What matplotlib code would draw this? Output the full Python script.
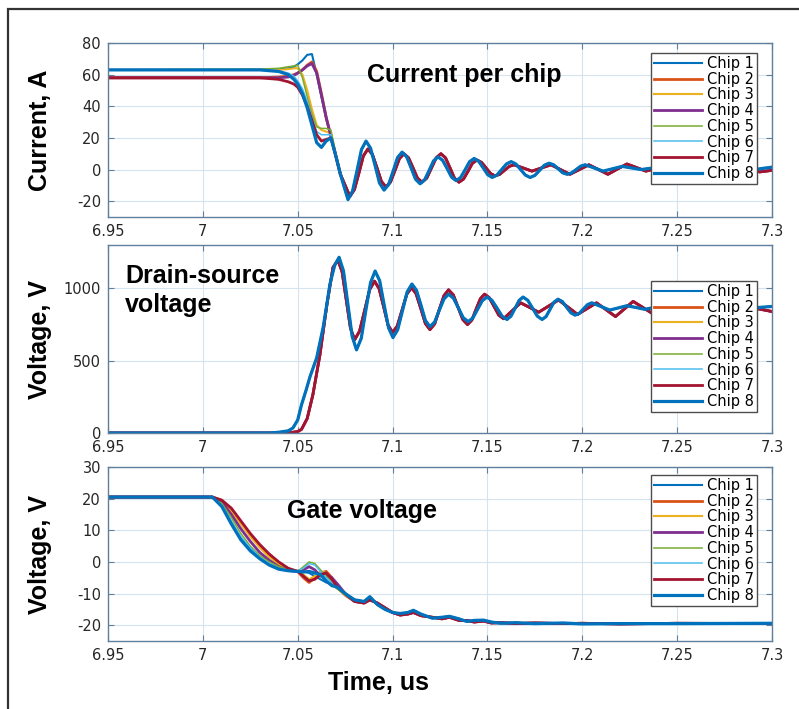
import matplotlib
matplotlib.use("Agg")
import matplotlib.pyplot as plt
from matplotlib.patches import Rectangle

# ---------------- data ----------------
chips = ["Chip 1", "Chip 2", "Chip 3", "Chip 4", "Chip 5", "Chip 6", "Chip 7", "Chip 8"]
colors = ["#0072BD", "#D95319", "#EDB120", "#7E2F8E", "#77AC30", "#4DBEEE", "#A2142F", "#0072BD"]
widths = [1.5, 2.0, 1.5, 2.0, 1.1, 1.1, 2.0, 2.3]

xticks = [6.95, 7.0, 7.05, 7.1, 7.15, 7.2, 7.25, 7.3]
xtick_labels = ["6.95", "7", "7.05", "7.1", "7.15", "7.2", "7.25", "7.3"]

# ---- current per chip: turn-off part (common time grid) ----
cur_t_head = [6.95, 7.03, 7.04, 7.045, 7.048, 7.05, 7.0525, 7.055, 7.0575, 7.06, 7.0625, 7.065, 7.0675, 7.07, 7.0725]
cur_chip1 = [63, 63, 63.5, 64, 65, 66.5, 69, 72.5, 73, 60, 46, 32, 21, 9, -3]
cur_chip2 = [58, 58, 58.5, 59, 60, 61, 63, 66, 68, 62, 48, 33, 21, 9, -3]
cur_chip3 = [63, 63, 63, 63.5, 64, 64, 60, 50, 38, 28, 25, 24, 23, 10, -2]
cur_chip4 = [58, 58, 58, 58.5, 59.5, 61, 63, 65.5, 67, 61, 47, 33, 21, 9, -3]
cur_chip5 = [63, 63.5, 64, 65, 65.5, 66, 58, 46, 35, 27, 26, 26, 25, 11, -2]
cur_chip6 = [63, 63, 62.5, 61, 59, 56, 51, 43, 33, 24, 22, 22, 22, 10, -3]
cur_chip7 = [58, 58, 57, 55.5, 54, 52, 47, 40, 31, 22, 18, 19, 20, 9, -3]
cur_chip8 = [63, 63, 62, 60, 57, 54, 48, 39, 28, 17, 14, 18, 20, 9, -3]

# ringing, group A (blue traces)
cur_ring_a_t = [7.0765, 7.0789, 7.0813, 7.0836, 7.086, 7.0884, 7.0908, 7.0931, 7.0955, 7.0979, 7.1003, 7.1026,
                7.105, 7.1074, 7.1098, 7.1121, 7.1145, 7.1169, 7.1193, 7.1216, 7.124, 7.1264, 7.1288, 7.1311,
                7.1335, 7.1359, 7.1383, 7.1406, 7.143, 7.1454, 7.1478, 7.1501, 7.1525, 7.155, 7.1575, 7.16,
                7.1625, 7.165, 7.1675, 7.17, 7.1725, 7.175, 7.1775, 7.18, 7.1825, 7.1849, 7.1873, 7.1896,
                7.192, 7.1944, 7.1968, 7.1991, 7.2015, 7.2063, 7.211, 7.216, 7.221, 7.226, 7.231, 7.236,
                7.241, 7.246, 7.251, 7.256, 7.261, 7.266, 7.271, 7.276, 7.281, 7.286, 7.291, 7.2955, 7.3]
cur_ring_a = [-19, -13.6, -0.5, 12.6, 18, 13.5, 2.5, -8.5, -13, -9.5, -1, 7.5, 11, 8.1, 1, -6.1, -9, -6.5,
              -0.5, 5.5, 8, 5.8, 0.5, -4.8, -7, -5, 0, 5, 7, 5.2, 1, -3.2, -5, -3.5, 0, 3.5, 5, 3.5, 0,
              -3.5, -5, -3.7, -0.5, 2.7, 4, 3, 0.5, -2, -3, -2.1, 0, 2.1, 3, 1, -1, 0.5, 2, 1, 0, 0.8,
              1.5, 0.5, -0.5, 0.3, 1, 0.3, -0.5, 0.3, 1, 0.5, 0, 0.8, 1.5]
# ringing, group B (purple traces)
cur_ring_b_t = [7.0775, 7.0799, 7.0823, 7.0846, 7.087, 7.0894, 7.0918, 7.0941, 7.0965, 7.0989, 7.1013, 7.1036,
                7.106, 7.1084, 7.1108, 7.1131, 7.1155, 7.118, 7.1205, 7.123, 7.1255, 7.1279, 7.1303, 7.1326,
                7.135, 7.1374, 7.1398, 7.1421, 7.1445, 7.1469, 7.1493, 7.1516, 7.154, 7.1565, 7.159, 7.1615,
                7.164, 7.1688, 7.1735, 7.1785, 7.1835, 7.1885, 7.1935, 7.1985, 7.2035, 7.2085, 7.2135, 7.2185,
                7.2235, 7.2285, 7.2335, 7.2385, 7.2435, 7.2485, 7.2535, 7.2585, 7.2635, 7.2685, 7.2735,
                7.2785, 7.2835, 7.2885, 7.2935, 7.3]
cur_ring_b = [-17, -12.6, -2, 8.6, 13, 9.5, 1, -7.5, -11, -7.9, -0.5, 6.9, 10, 7.4, 1, -5.4, -8, -5.4, 1,
              7.4, 10, 7.4, 1, -5.4, -8, -6, -1, 4, 6, 4.5, 1, -2.5, -4, -3, -0.5, 2, 3, 1, -1, 1, 3, 0,
              -3, 0, 3, 0, -3, 0.3, 3.5, 1.3, -1, 0.5, 2, 0.3, -1.5, 0.3, 2, 0, -2, -0.5, 1, -0.3, -1.5, -0.5]

# ---- drain-source voltage ----
vds_a_t = [6.95, 7.035, 7.04, 7.045, 7.0475, 7.05, 7.052, 7.0545, 7.0565, 7.06, 7.0634, 7.065, 7.067, 7.0695, 7.0718,
           7.0741, 7.0764, 7.0787, 7.081, 7.0835, 7.0859, 7.0884, 7.0908, 7.0932, 7.0955, 7.0979, 7.1002,
           7.1027, 7.1052, 7.1077, 7.1102, 7.1126, 7.115, 7.1173, 7.1197, 7.1222, 7.1246, 7.1271, 7.1295,
           7.1321, 7.1347, 7.1372, 7.1398, 7.1423, 7.1448, 7.1473, 7.1498, 7.1524, 7.1551, 7.1577, 7.1603,
           7.1624, 7.1646, 7.1667, 7.1688, 7.1713, 7.1738, 7.1763, 7.1788, 7.1809, 7.183, 7.1851, 7.1872,
           7.1895, 7.1917, 7.194, 7.1962, 7.1984, 7.2006, 7.2028, 7.205,
           7.2098, 7.2145, 7.219, 7.2235, 7.2283, 7.233, 7.2378, 7.2425, 7.2473, 7.252, 7.2568, 7.2615,
           7.2663, 7.271, 7.2758, 7.2805, 7.2853, 7.29, 7.295, 7.3]
vds_a = [0, 0, 5, 15, 35, 90, 195, 300, 390, 520, 730, 860, 1030, 1160, 1215,
         1122, 895, 668, 575, 655, 848, 1040, 1120, 1053, 890, 727, 660,
         714, 845, 976, 1030, 987, 883, 778, 735, 768, 848, 927, 960,
         932, 865, 798, 770, 795, 855, 915, 940, 917, 863, 808, 785,
         808, 863, 917, 940, 917, 863, 808, 785, 805, 855, 905, 925,
         909, 870, 831, 815, 827, 858, 888, 900,
         875, 850, 865, 880, 868, 855, 868, 880, 870, 860, 870, 880,
         873, 865, 873, 880, 873, 865, 870, 875]
vds_b_t = [6.95, 7.045, 7.05, 7.052, 7.055, 7.058, 7.0617, 7.0654, 7.0686, 7.0712,
           7.0734, 7.0756, 7.0778, 7.08, 7.0826, 7.0853, 7.0879, 7.0905, 7.0929, 7.0953, 7.0976, 7.1,
           7.1025, 7.105, 7.1075, 7.11, 7.1124, 7.1149, 7.1173, 7.1197, 7.1222, 7.1246, 7.1271, 7.1295,
           7.132, 7.1345, 7.137, 7.1395, 7.1418, 7.144, 7.1463, 7.1485, 7.151, 7.1535, 7.156, 7.1585,
           7.163, 7.1675, 7.1723, 7.177, 7.1823, 7.1875, 7.1925, 7.1975, 7.2025, 7.2075, 7.2125, 7.2175,
           7.2222, 7.2268, 7.2317, 7.2365, 7.2415, 7.2465, 7.2515, 7.2565, 7.2615, 7.2665, 7.2715, 7.2765,
           7.2815, 7.2865, 7.293, 7.3]
vds_b = [0, 0, 10, 25, 100, 265, 540, 890, 1145, 1195,
         1115, 920, 725, 645, 704, 848, 991, 1050, 998, 873, 747, 695,
         740, 850, 960, 1005, 963, 860, 757, 715, 755, 853, 950, 990,
         955, 870, 785, 750, 781, 855, 929, 960, 935, 875, 815, 790,
         845, 900, 868, 835, 878, 920, 870, 820, 860, 900, 853, 805,
         858, 910, 870, 830, 860, 890, 860, 830, 855, 880, 860, 840,
         858, 875, 858, 840]

# ---- gate voltage ----
vgs_t_head = [6.95, 7.005, 7.01, 7.015, 7.02, 7.025, 7.03, 7.035, 7.04, 7.045, 7.05, 7.053, 7.056, 7.059,
              7.062, 7.065, 7.068, 7.071, 7.075]
vgs_chip1 = [20.5, 20.5, 18, 12.5, 7.5, 4, 1.2, -0.8, -2.2, -2.8, -3, -3, -3.5, -4.5, -5.5, -6.5, -7, -8.5, -10]
vgs_chip2 = [20.5, 20.5, 19.5, 16.5, 12.5, 8.5, 5, 2, -0.5, -2.2, -3, -5, -6.5, -5, -3.5, -3, -5, -8, -10.5]
vgs_chip3 = [20.5, 20.5, 19, 16, 12, 8, 4.5, 1.5, -0.8, -2.3, -3, -4, -5.5, -4.5, -3, -3.5, -6, -8.5, -10.5]
vgs_chip4 = [20.5, 20.5, 19, 15, 10.5, 6.5, 3, 0.5, -1.5, -2.7, -3, -2.5, -1.5, -2.5, -4.5, -4, -5, -7, -10]
vgs_chip5 = [20.5, 20.5, 18.5, 14, 9, 5, 2, 0, -1.5, -2.5, -3, -1.5, 0, -0.5, -2.5, -4.5, -6.5, -8.5, -10.5]
vgs_chip6 = [20.5, 20.5, 18, 13, 8, 4.5, 1.5, -0.5, -2, -2.7, -3, -2, -0.5, -1, -3, -5, -6.5, -8, -10]
vgs_chip7 = [20.5, 20.5, 19.5, 17, 13, 9, 5.5, 2.5, 0, -2, -3, -4.5, -6, -5.5, -4, -3.5, -5.5, -8, -10]
vgs_chip8 = [20.5, 20.5, 17.5, 12, 7, 3.5, 1, -1, -2.3, -2.8, -3, -3.2, -3, -3.5, -4, -6, -7.5, -8, -10]
vgs_t_tail = [7.08, 7.085, 7.088, 7.092, 7.096, 7.1, 7.104, 7.108, 7.111, 7.115, 7.121, 7.126, 7.13, 7.135,
              7.139, 7.143, 7.148, 7.152, 7.157, 7.165, 7.175, 7.19, 7.2, 7.22, 7.25, 7.3]
vgs_tail_a = [-12, -12.5, -11, -13.5, -15, -16, -16.3, -16, -15.3, -16.5, -17.8, -17.5, -17.2, -18, -18.8,
              -18.5, -18.4, -19, -19.4, -19.2, -19.5, -19.3, -19.6, -19.5, -19.5, -19.4]
vgs_tail_b = [-12.5, -13, -12, -13, -14.5, -16, -16.8, -16.5, -16, -17, -17.5, -18, -17.5, -18.5, -18.5,
              -19, -18.7, -19.3, -19.2, -19.5, -19.3, -19.5, -19.4, -19.6, -19.4, -19.5]

# assemble per-chip series by joining the read segments
cur_heads = [cur_chip1, cur_chip2, cur_chip3, cur_chip4, cur_chip5, cur_chip6, cur_chip7, cur_chip8]
cur_group = ["a", "b", "a", "b", "a", "a", "b", "a"]
vds_group = ["a", "b", "a", "b", "a", "a", "b", "a"]
vgs_heads = [vgs_chip1, vgs_chip2, vgs_chip3, vgs_chip4, vgs_chip5, vgs_chip6, vgs_chip7, vgs_chip8]
vgs_group = ["a", "b", "a", "b", "a", "b", "b", "a"]

# ---------------- figure ----------------
W, H = 799, 709
fig = plt.figure(figsize=(W / 100, H / 100), dpi=100)

def frac_rect(left, top, right, bottom):
    return [left / W, 1 - bottom / H, (right - left) / W, (bottom - top) / H]

ax1 = fig.add_axes(frac_rect(108, 43, 772, 217))
ax2 = fig.add_axes(frac_rect(108, 245, 772, 433))
ax3 = fig.add_axes(frac_rect(108, 467, 772, 641))

spine_c = "#5f7f9c"
grid_c = "#d5e3ee"
tick_font = dict(family="DejaVu Sans", size=10.5)
bold_font = "Liberation Sans"

for i in range(8):
    if cur_group[i] == "a":
        t = cur_t_head + cur_ring_a_t
        v = cur_heads[i] + cur_ring_a
    else:
        t = cur_t_head + cur_ring_b_t
        v = cur_heads[i] + cur_ring_b
    ax1.plot(t, v, color=colors[i], lw=widths[i], label=chips[i])

for i in range(8):
    if vds_group[i] == "a":
        ax2.plot(vds_a_t, vds_a, color=colors[i], lw=widths[i], label=chips[i])
    else:
        ax2.plot(vds_b_t, vds_b, color=colors[i], lw=widths[i], label=chips[i])

for i in range(8):
    tail = vgs_tail_a if vgs_group[i] == "a" else vgs_tail_b
    ax3.plot(vgs_t_head + vgs_t_tail, vgs_heads[i] + tail, color=colors[i], lw=widths[i], label=chips[i])

settings = [
    (ax1, (-30, 80), [-20, 0, 20, 40, 60, 80], "Current, A", (0.977, 0.9425)),
    (ax2, (0, 1300), [0, 500, 1000], "Voltage, V", (0.977, 0.8085)),
    (ax3, (-25, 30), [-20, -10, 0, 10, 20, 30], "Voltage, V", (0.977, 0.954)),
]
for ax, ylim, yt, ylab, lpos in settings:
    ax.set_xlim(6.95, 7.3)
    ax.set_ylim(*ylim)
    ax.set_xticks(xticks)
    ax.set_xticklabels(xtick_labels)
    ax.set_yticks(yt)
    ax.set_yticklabels([str(v) for v in yt])
    for lab in ax.get_xticklabels() + ax.get_yticklabels():
        lab.set_fontfamily(tick_font["family"])
        lab.set_fontsize(tick_font["size"])
        lab.set_color("#262626")
    ax.grid(True, color=grid_c, lw=0.8)
    ax.set_axisbelow(True)
    ax.tick_params(direction="in", top=True, right=True, length=4, width=0.8, color=spine_c, pad=5)
    for s in ax.spines.values():
        s.set_color(spine_c)
        s.set_linewidth(1.0)
    ax.set_ylabel(ylab, fontfamily=bold_font, fontweight="bold", fontsize=18)
    ax.yaxis.set_label_coords(-0.085, 0.5)
    leg = ax.legend(loc="upper right", bbox_to_anchor=lpos, borderaxespad=0,
                    prop={"family": "DejaVu Sans", "size": 10.5},
                    handlelength=3.3, handletextpad=0.35, labelspacing=0.05,
                    borderpad=0.2, fancybox=False, framealpha=1, edgecolor="#4d4d4d")
    leg.get_frame().set_linewidth(1.0)

ax1.text((367 - 108) / 664, (217 - 82) / 174, "Current per chip", transform=ax1.transAxes,
         fontfamily=bold_font, fontweight="bold", fontsize=18, ha="left", va="baseline")
ax2.text((125 - 108) / 664, (433 - 312) / 188, "Drain-source\nvoltage", transform=ax2.transAxes,
         fontfamily=bold_font, fontweight="bold", fontsize=18, ha="left", va="baseline", linespacing=1.25)
ax3.text((287 - 108) / 664, (641 - 518) / 174, "Gate voltage", transform=ax3.transAxes,
         fontfamily=bold_font, fontweight="bold", fontsize=18, ha="left", va="baseline")

fig.text(378 / W, 1 - 690 / H, "Time, us", fontfamily=bold_font, fontweight="bold", fontsize=18,
         ha="center", va="baseline")

fig.patches.append(Rectangle((8 / W, -0.05), 1.2, 1 - 9 / H + 0.05, transform=fig.transFigure,
                             fill=False, edgecolor="#333333", linewidth=1.6))

fig.savefig("out.png", dpi=100)
